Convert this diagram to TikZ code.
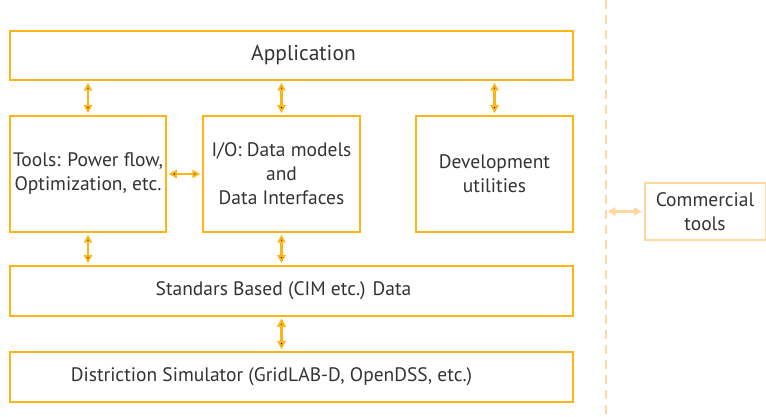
\documentclass[tikz,border=0pt]{standalone}
\usepackage{fontspec}
\setmainfont{PT Sans}
\usetikzlibrary{positioning,arrows.meta}
\definecolor{gold}{HTML}{FDB515}
\definecolor{palegold}{HTML}{FDD9A0}
\definecolor{txtgrey}{HTML}{333333}

\begin{document}
\begin{tikzpicture}[x=1pt,y=1pt,font=\fontsize{19.5}{24}\selectfont,
    box/.style={draw=gold,line width=2.5pt,text=txtgrey,align=center,inner sep=0pt},
    extbox/.style={box,draw=palegold,line width=2pt},
    link/.style={<->,>={Triangle[length=8pt,width=8pt]},draw=gold,line width=2.2pt,shorten >=1.5pt,shorten <=1.5pt}]
  \useasboundingbox (0,0) rectangle (766,417);
  \node[box,minimum width=563,minimum height=49,font=\fontsize{21.5}{24}\selectfont] (app) at (291.5,361.5) {\hspace*{24pt}Application};
  \node[box,minimum width=156,minimum height=116] (tools) at (88,243) {Tools: Power flow,\\Optimization, etc.};
  \node[box,minimum width=157,minimum height=116] (io) at (281.5,243) {I/O: Data models\\and\\Data Interfaces};
  \node[box,minimum width=157,minimum height=116] (dev) at (494.5,243) {Development\\utilities};
  \node[box,minimum width=563,minimum height=50] (std) at (291.5,126) {Standars Based (CIM etc.) Data\hspace*{16pt}};
  \node[box,minimum width=563,minimum height=50] (sim) at (291.5,40) {Distriction Simulator (GridLAB-D, OpenDSS, etc.)\hspace*{40pt}};
  \node[extbox,minimum width=121,minimum height=57] (comm) at (705,205.5) {Commercial\\tools};
  % boundary to outside tools
  \coordinate (top) at (606,417);
  \coordinate (bot) at (606,0);
  \draw[palegold,line width=2pt,dash pattern=on 9pt off 6pt] (top) -- (bot);
  \path[link]
    (tools.north |- app.south) edge (tools.north)
    (io.north |- app.south) edge (io.north)
    (dev.north |- app.south) edge (dev.north)
    (tools.east) edge (io.west)
    (tools.south) edge (tools.south |- std.north)
    (io.south) edge (io.south |- std.north)
    (io.south |- std.south) edge (io.south |- sim.north);
  \draw[link,draw=palegold] (comm.west -| bot) -- (comm.west);
\end{tikzpicture}
\end{document}
